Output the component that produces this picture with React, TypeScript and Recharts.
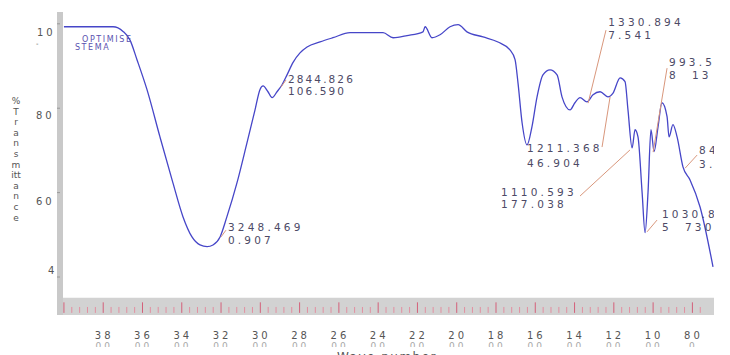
import {
  ComposedChart,
  Line,
  Scatter,
  XAxis,
  YAxis,
  ReferenceArea,
  ReferenceLine,
} from "recharts";

// IR spectrum (cm-1 vs %T)
const wavenumbers = [
  4000, 3750, 3699, 3664, 3628, 3577, 3511, 3445, 3394, 3348, 3307, 3271, 3241, 3205, 3170,
  3119, 3068, 3027, 3002, 2986, 2961, 2940, 2915, 2890, 2864, 2834, 2798, 2762, 2696, 2630,
  2543, 2375, 2324, 2253, 2172, 2161, 2126, 2085, 2034, 1993, 1948, 1866, 1790, 1729, 1703,
  1688, 1667, 1642, 1617, 1591, 1561, 1525, 1489, 1464, 1423, 1398, 1372, 1337, 1306, 1270,
  1230, 1204, 1168, 1143, 1128, 1107, 1092, 1077, 1056, 1041, 1026, 1011, 995, 975, 955,
  929, 919, 899, 878, 848, 812, 761, 695,
];
const transmittance = [
  99.3, 99.3, 98.2, 96.2, 91.5, 84.4, 73.2, 62.3, 54.3, 49.5, 47.6, 47.2, 47.6, 49.5, 54.3,
  62.3, 71.8, 79.6, 84.4, 85.3, 83.9, 82.5, 83.9, 85.5, 87.9, 90.8, 93.1, 94.5, 95.7, 96.7,
  97.9, 97.9, 96.7, 97.2, 98.1, 99.3, 96.7, 97.4, 99.3, 99.8, 98.1, 96.9, 95.7, 93.8, 91.5,
  86.0, 76.5, 71.3, 75.6, 82.7, 87.9, 89.1, 87.9, 82.7, 79.6, 81.3, 82.5, 81.5, 83.2, 83.9,
  82.7, 83.6, 87.2, 86.3, 79.6, 70.6, 74.9, 73.2, 60.0, 50.5, 60.0, 74.9, 69.7, 75.6, 81.3,
  78.0, 73.2, 76.1, 73.2, 66.1, 63.0, 56.6, 42.4,
];
const spectrum = wavenumbers.map((wn, i) => ({ wn, t: transmittance[i] }));

const xTicks = [3800, 3600, 3400, 3200, 3000, 2800, 2600, 2400, 2200, 2000, 1800, 1600, 1400, 1200, 1000, 800];
const xTickTop = ["38", "36", "34", "32", "30", "28", "26", "24", "22", "20", "18", "16", "14", "12", "10", "80"];
const xTickBottom = ["00", "00", "00", "00", "00", "00", "00", "00", "00", "00", "00", "00", "00", "00", "00", "0"];

const yTicks = [40, 60, 80, 100];
const yTickLabels = ["4", "60", "80", "10"];

const yTitle = ["%", "T", "r", "a", "n", "s", "m", "itt", "a", "n", "c", "e"];

// ruler marks in the grey strip under the plot
const rulerTicks = Array.from({ length: 82 }, (_, i) => 4000 - i * 40);

const peakTexts = [
  { wn: 3908, t: 95.7, text: "OPTIMISE", kind: "tag" },
  { wn: 3944, t: 93.8, text: "STEMA", kind: "tag" },
  { wn: 3165, t: 50.9, text: "3248.469", kind: "peak" },
  { wn: 3165, t: 47.8, text: "0.907", kind: "peak" },
  { wn: 2859, t: 86.0, text: "2844.826", kind: "tight" },
  { wn: 2859, t: 83.1, text: "106.590", kind: "tight" },
  { wn: 1229, t: 99.5, text: "1330.894", kind: "peak" },
  { wn: 1229, t: 96.4, text: "7.541", kind: "peak" },
  { wn: 1642, t: 69.6, text: "1211.368", kind: "peak" },
  { wn: 1642, t: 66.1, text: "46.904", kind: "peak" },
  { wn: 919, t: 90.0, text: "993.51", kind: "peak" },
  { wn: 919, t: 86.9, text: "8  13", kind: "peak" },
  { wn: 766, t: 69.2, text: "84", kind: "peak" },
  { wn: 766, t: 65.8, text: "3.", kind: "peak" },
  { wn: 1774, t: 59.2, text: "1110.593", kind: "peak" },
  { wn: 1774, t: 56.4, text: "177.038", kind: "peak" },
  { wn: 955, t: 54.0, text: "1030.87", kind: "peak" },
  { wn: 955, t: 50.9, text: "5  730", kind: "peak" },
];

const leaders = [
  { x1: 1240, y1: 98.5, x2: 1331, y2: 81.2 },
  { x1: 1260, y1: 70.8, x2: 1219, y2: 82.7 },
  { x1: 929, y1: 89.5, x2: 1000, y2: 69.6 },
  { x1: 776, y1: 68.9, x2: 837, y2: 65.8 },
  { x1: 1372, y1: 59.2, x2: 1118, y2: 70.1 },
  { x1: 980, y1: 53.5, x2: 1031, y2: 50.7 },
  { x1: 3175, y1: 51.1, x2: 3200, y2: 49.5 },
  { x1: 2869, y1: 86.7, x2: 2895, y2: 85.0 },
];

const XTick = (props: any) => {
  const { x, index } = props;
  const id = "xcut" + index;
  return (
    <g fontFamily="DejaVu Sans" letterSpacing={3}>
      <defs>
        <clipPath id={id}>
          <rect x={x - 20} y={341} width={40} height={6} />
        </clipPath>
      </defs>
      <text x={x + 1} y={339} textAnchor="middle" fill="#555" fontSize={10}>
        {xTickTop[index]}
      </text>
      <g clipPath={`url(#${id})`}>
        <text x={x + 1} y={349} textAnchor="middle" fill="#a8a8a8" fontSize={9}>
          {xTickBottom[index]}
        </text>
      </g>
    </g>
  );
};

const YTick = (props: any) => {
  const { y, index } = props;
  const dy = [-3, 12, 11, 12][index];
  const lx = [48, 36, 36, 37][index];
  return (
    <g fontFamily="DejaVu Sans" fontSize={10} letterSpacing={3} fill="#555">
      <text x={lx} y={y + dy}>
        {yTickLabels[index]}
      </text>
      {index === 3 && (
        <text x={36} y={y + 22} fontSize={7}>
          -
        </text>
      )}
    </g>
  );
};

const YTitle = () => (
  <g fontFamily="DejaVu Sans" fontSize={9} fill="#555" textAnchor="middle">
    {yTitle.map((c, i) => (
      <text key={i} x={16} y={104 + i * 10.6}>
        {c}
      </text>
    ))}
  </g>
);

const XTitle = () => (
  <text x={387} y={361} textAnchor="middle" fontFamily="DejaVu Sans" fontSize={12} letterSpacing={1.5} fill="#555">
    Wave number
  </text>
);

const PeakText = (props: any) => {
  const { cx, cy, payload } = props;
  const tag = payload.kind === "tag";
  const ls = tag ? 1.6 : payload.kind === "tight" ? 2.1 : 3.2;
  return (
    <text
      x={cx}
      y={cy}
      fontFamily="DejaVu Sans"
      fontSize={tag ? 8 : 10.5}
      letterSpacing={ls}
      fill={tag ? "#5a52b0" : "#4d4a66"}
      style={{ whiteSpace: "pre" }}
    >
      {payload.text}
    </text>
  );
};

export default function App() {
  return (
    <div style={{ position: "absolute", left: 0, top: 0, width: 730, height: 355, background: "#fff" }}>
      <ComposedChart width={730} height={355} data={spectrum} margin={{ top: 12, right: 16, bottom: 0, left: 0 }}>
        <XAxis
          dataKey="wn"
          type="number"
          domain={[690, 4020]}
          reversed
          allowDataOverflow
          ticks={xTicks}
          interval={0}
          height={40}
          axisLine={false}
          tickLine={false}
          tick={<XTick />}
          label={<XTitle />}
        />
        <YAxis
          type="number"
          domain={[31, 102.8]}
          allowDataOverflow
          ticks={yTicks}
          interval={0}
          width={60}
          axisLine={{ stroke: "#c9c9c9", strokeWidth: 6 }}
          tickLine={{ stroke: "#9a9a9a" }}
          tickSize={3}
          tick={<YTick />}
          label={<YTitle />}
        />
        <ReferenceArea x1={4020} x2={690} y1={31} y2={35.1} fill="#d2d2d2" fillOpacity={1} stroke="none" />
        {rulerTicks.map((w) => (
          <ReferenceLine
            key={w}
            segment={[
              { x: w, y: 31.5 },
              { x: w, y: w % 200 === 0 ? 34 : 32.9 },
            ]}
            stroke={w % 200 === 0 ? "#d4607a" : "#e38fa0"}
            strokeWidth={1}
          />
        ))}
        <Line
          type="monotone"
          dataKey="t"
          stroke="#4646c8"
          strokeWidth={1.3}
          dot={false}
          isAnimationActive={false}
        />
        {leaders.map((l, i) => (
          <ReferenceLine
            key={"l" + i}
            segment={[
              { x: l.x1, y: l.y1 },
              { x: l.x2, y: l.y2 },
            ]}
            stroke="#d9977c"
            strokeWidth={1}
          />
        ))}
        <Scatter data={peakTexts} dataKey="t" shape={(p: any) => <PeakText {...p} />} isAnimationActive={false} />
      </ComposedChart>
    </div>
  );
}
